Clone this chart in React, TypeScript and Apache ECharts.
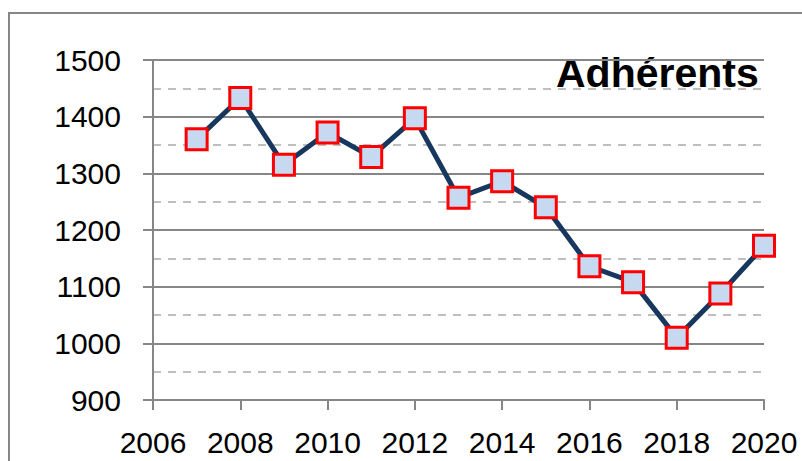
import React, { useEffect, useRef } from "react";
import * as echarts from "echarts";

const years: number[] = [2007, 2008, 2009, 2010, 2011, 2012, 2013, 2014, 2015, 2016, 2017, 2018, 2019, 2020];
const adherents: number[] = [1360, 1433, 1315, 1372, 1329, 1397, 1257, 1286, 1240, 1136, 1108, 1010, 1088, 1172];
const titleText = "Adhérents";
const xRange = { min: 2006, max: 2020, interval: 2 };
const yRange = { min: 900, max: 1500, interval: 100 };

const FONT = "'Liberation Sans', Arial, sans-serif";

export default function App() {
  const ref = useRef<HTMLDivElement>(null);
  useEffect(() => {
    if (!ref.current) return;
    const chart = echarts.init(ref.current, null, { renderer: "svg" });
    const data = years.map((y, i) => [y, adherents[i]]);
    chart.setOption({
      animation: false,
      backgroundColor: "#ffffff",
      grid: { left: 153, right: 38, top: 60, bottom: 61, containLabel: false },
      xAxis: {
        type: "value",
        min: xRange.min,
        max: xRange.max,
        interval: xRange.interval,
        axisLine: { show: true, lineStyle: { color: "#868686", width: 2 } },
        axisTick: { show: true, inside: false, length: 10, lineStyle: { color: "#868686", width: 2 } },
        axisLabel: { color: "#000", fontSize: 30, fontFamily: FONT, margin: 27, formatter: (v: number) => String(v) },
        splitLine: { show: false },
      },
      yAxis: {
        type: "value",
        min: yRange.min,
        max: yRange.max,
        interval: yRange.interval,
        axisLine: { show: true, lineStyle: { color: "#868686", width: 2 } },
        axisTick: { show: true, inside: false, length: 10, lineStyle: { color: "#868686", width: 2 } },
        axisLabel: { color: "#000", fontSize: 30, fontFamily: FONT, margin: 32, formatter: (v: number) => String(v) },
        splitLine: { show: true, lineStyle: { color: "#868686", width: 2 } },
        minorTick: { show: false, splitNumber: 2 },
        minorSplitLine: { show: true, lineStyle: { color: "#bfbfbf", width: 2, type: [8, 7] } },
      },
      graphic: [
        {
          type: "rect",
          z: -10,
          silent: true,
          shape: { x: 9, y: 13, width: 900, height: 500 },
          style: { fill: "none", stroke: "#868686", lineWidth: 2 },
        },
        {
          type: "group",
          z: 100,
          children: [
            {
              type: "rect",
              shape: { x: 545, y: 44, width: 240, height: 58 },
              style: { fill: "#ffffff" },
            },
            {
              type: "text",
              x: 556,
              y: 73,
              style: {
                text: titleText,
                font: `bold 41px ${FONT}`,
                fill: "#000",
                textAlign: "left",
                textVerticalAlign: "middle",
              },
            },
          ],
        },
      ],
      series: [
        {
          type: "line",
          data,
          z: 10,
          lineStyle: { color: "#17375e", width: 5 },
          symbol: "rect",
          symbolSize: 21,
          itemStyle: { color: "#c6d9f1", borderColor: "#ff0000", borderWidth: 3 },
        },
      ],
    });
    return () => chart.dispose();
  }, []);
  return <div ref={ref} style={{ position: "fixed", left: 0, top: 0, width: 802, height: 461 }} />;
}
